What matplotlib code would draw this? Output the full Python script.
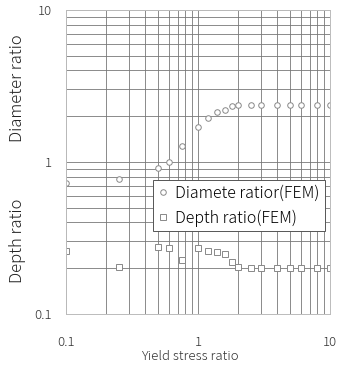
import matplotlib
matplotlib.use("Agg")
import matplotlib.pyplot as plt

plt.rcParams['font.family'] = ['Noto Sans CJK JP', 'DejaVu Sans']
plt.rcParams['font.weight'] = 'light'

# yield stress ratio and the two FEM series
yield_ratio = [0.1, 0.25, 0.5, 0.6, 0.75, 1.0, 1.2, 1.4, 1.6, 1.8,
               2.0, 2.5, 3.0, 4.0, 5.0, 6.0, 8.0, 10.0]
diameter_ratio = [0.73, 0.77, 0.91, 1.0, 1.28, 1.69, 1.94, 2.12, 2.19, 2.32,
                  2.36, 2.36, 2.36, 2.36, 2.36, 2.36, 2.36, 2.36]
depth_ratio = [0.26, 0.204, 0.277, 0.27, 0.227, 0.27, 0.26, 0.256, 0.249, 0.22,
               0.204, 0.2, 0.2, 0.2, 0.2, 0.2, 0.2, 0.2]
tick_vals = [0.1, 1, 10]
tick_labels = ["0.1", "1", "10"]

fig = plt.figure(figsize=(3.38, 3.67), dpi=100)
ax = fig.add_axes([66/338, 53/367, 264/338, 304/367])

ax.plot(yield_ratio, diameter_ratio, 'o', ms=4, mfc='white', mec='#888888',
        mew=0.7, label="Diamete ratior(FEM)")
ax.plot(yield_ratio, depth_ratio, 's', ms=4, mfc='white', mec='#888888',
        mew=0.7, label="Depth ratio(FEM)")

ax.set_xscale('log')
ax.set_yscale('log')
ax.set_xlim(0.1, 10)
ax.set_ylim(0.1, 10)
ax.set_xticks(tick_vals)
ax.set_xticklabels(tick_labels)
ax.set_yticks(tick_vals)
ax.set_yticklabels(tick_labels)
ax.tick_params(which='both', length=0, labelsize=9.5, colors='#333333')
ax.tick_params(axis='x', pad=16)
ax.tick_params(axis='y', pad=10)
ax.grid(True, which='both', color='#777777', lw=0.6)
ax.set_axisbelow(True)
for s in ax.spines.values():
    s.set_color('#bbbbbb')
    s.set_linewidth(0.7)

leg = ax.legend(loc='upper left', bbox_to_anchor=(0.33, 0.44), fontsize=11.5,
                frameon=True, fancybox=False, edgecolor='#555555',
                framealpha=1, handlelength=0.6, handletextpad=0.5,
                borderpad=0.3, labelspacing=0.45, borderaxespad=0)
leg.get_frame().set_linewidth(0.7)

fig.text(190/338, 1 - 357/367, "Yield stress ratio", ha='center', va='center',
         fontsize=9.5, color='#333333')
fig.text(18/338, 1 - 88/367, "Diameter ratio", rotation=90, ha='center',
         va='center', fontsize=12, color='#222222')
fig.text(18/338, 1 - 241/367, "Depth ratio", rotation=90, ha='center',
         va='center', fontsize=12, color='#222222')

fig.savefig("out.png", dpi=100)
